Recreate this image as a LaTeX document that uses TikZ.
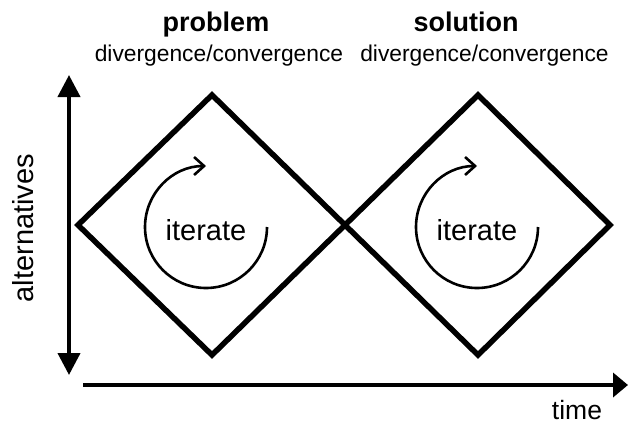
\documentclass[tikz,border=0pt]{standalone}
\usepackage{fontspec}
\setmainfont{Liberation Sans}
\usetikzlibrary{arrows.meta}
\begin{document}
\begin{tikzpicture}[x=1pt,y=-1pt,
  diam/.style={line width=5.5pt,line join=miter},
  axis/.style={line width=4pt},
  itarrow/.style={line width=2.6pt,-{Straight Barb[length=10pt,width=18pt]}},
  titletext/.style={font=\fontsize{27}{27}\selectfont\bfseries,anchor=base},
  subtext/.style={font=\fontsize{22.8}{23}\selectfont,anchor=base},
  bigtext/.style={font=\fontsize{29}{29}\selectfont,anchor=base}]
\useasboundingbox (0,0) rectangle (628,426);
% diamond vertices
\coordinate (l1) at (78,225);
\coordinate (t1) at (212,95);
\coordinate (m)  at (345,225);
\coordinate (b1) at (212,355);
\coordinate (t2) at (478,95);
\coordinate (r2) at (610,225);
\coordinate (b2) at (478,355);
\draw[diam] (l1) -- (t1) -- (m) -- (b1) -- cycle;
\draw[diam] (m) -- (t2) -- (r2) -- (b2) -- cycle;
% axes
\coordinate (vtop) at (69,75);
\coordinate (vbot) at (69,375);
\coordinate (hstart) at (83,385);
\coordinate (hend) at (628,385);
\draw[axis,{Triangle[length=22pt,width=22pt]}-{Triangle[length=22pt,width=22pt]}] (vbot) -- (vtop);
\draw[axis,-{Triangle[length=15pt,width=24pt]}] (hstart) -- (hend);
% iterate circles
\coordinate (c1) at (206,227);
\coordinate (c2) at (477,227);
\draw[itarrow] ([shift={(0:61)}]c1) arc[start angle=0,end angle=270,radius=61];
\draw[itarrow] ([shift={(0:61)}]c2) arc[start angle=0,end angle=270,radius=61];
\node[bigtext] (it1) at (206,240) {iterate};
\node[bigtext] (it2) at (477,240) {iterate};
% titles
\node[titletext] (p) at (216,31) {problem};
\node[subtext] (pd) at (219,61) {divergence/convergence};
\node[titletext] (s) at (466,31) {solution};
\node[subtext] (sd) at (484.5,61) {divergence/convergence};
% axis labels
\node[bigtext,rotate=90] (alt) at (33,228) {alternatives};
\node[font=\fontsize{26.5}{27}\selectfont,anchor=base,inner sep=1pt] (time) at (577,419) {time};
\end{tikzpicture}
\end{document}
